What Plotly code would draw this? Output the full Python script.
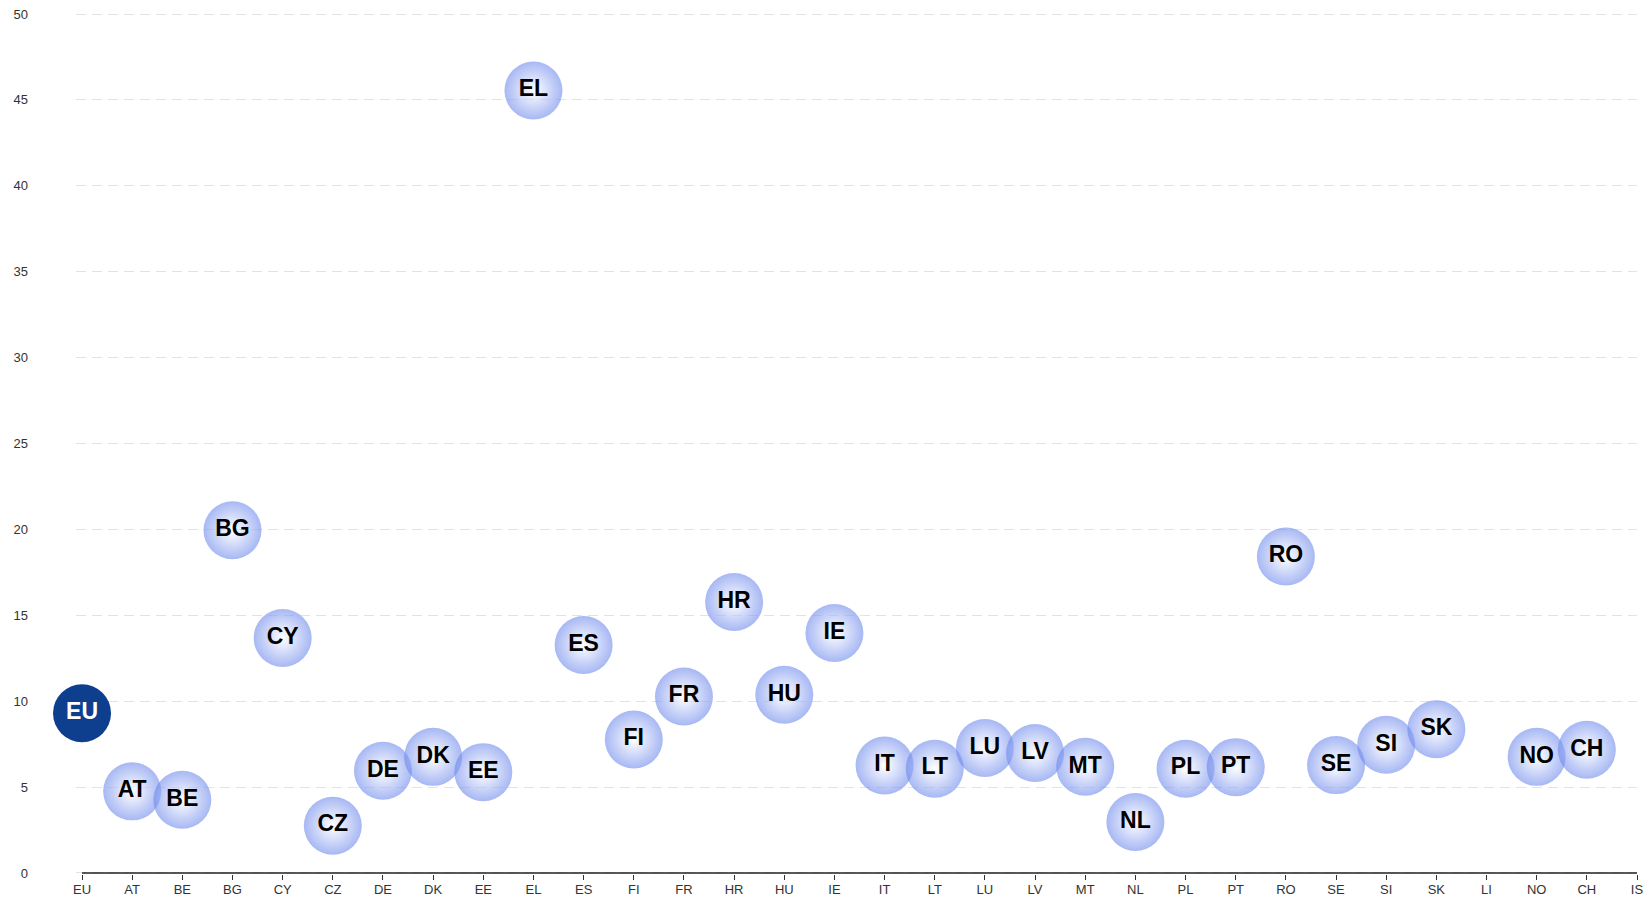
import plotly.graph_objects as go

categories = ["EU", "AT", "BE", "BG", "CY", "CZ", "DE", "DK", "EE", "EL",
              "ES", "FI", "FR", "HR", "HU", "IE", "IT", "LT", "LU", "LV",
              "MT", "NL", "PL", "PT", "RO", "SE", "SI", "SK", "LI", "NO",
              "CH", "IS"]
values = [9.3, 4.75, 4.26, 19.95, 13.68, 2.75, 5.95, 6.76, 5.87, 45.55,
          13.27, 7.77, 10.27, 15.77, 10.37, 13.97, 6.26, 6.07, 7.27, 6.98,
          6.18, 2.97, 6.07, 6.16, 18.42, 6.28, 7.46, 8.37, None, 6.76,
          7.17, None]
y_ticks = [0, 5, 10, 15, 20, 25, 30, 35, 40, 45, 50]

eu_x = [c for c in categories if c == "EU"]
eu_y = [v for c, v in zip(categories, values) if c == "EU"]
cx = [c for c, v in zip(categories, values) if c != "EU" and v is not None]
cy = [v for c, v in zip(categories, values) if c != "EU" and v is not None]

FONT = "Liberation Sans, Arial, Helvetica, sans-serif"

fig = go.Figure()

fig.add_trace(go.Scatter(
    x=cx, y=cy, mode="markers+text", text=cx,
    textposition="middle center",
    textfont=dict(family=FONT, size=23, color="#000000", weight="bold"),
    marker=dict(size=58, color="rgb(108,136,236)", opacity=0.6,
                line=dict(width=0),
                gradient=dict(type="radial", color="rgb(255,255,255)")),
    hoverinfo="skip", cliponaxis=False, showlegend=False,
))

fig.add_trace(go.Scatter(
    x=eu_x, y=eu_y, mode="markers+text", text=eu_x,
    textposition="middle center",
    textfont=dict(family=FONT, size=23, color="#ffffff", weight="bold"),
    marker=dict(size=58, color="#0e3f8e", line=dict(width=0)),
    hoverinfo="skip", cliponaxis=False, showlegend=False,
))

# x axis baseline from first to last category
fig.add_shape(type="line", xref="x", yref="y",
              x0=0, x1=len(categories) - 1, y0=0, y1=0,
              line=dict(color="#222222", width=1.5), layer="above")

fig.update_layout(
    width=1649, height=900,
    margin=dict(l=76, r=12, t=13, b=26),
    paper_bgcolor="white", plot_bgcolor="white",
    font=dict(family=FONT, size=12, color="#333333"),
    xaxis=dict(
        type="category", categoryorder="array", categoryarray=categories,
        range=[-0.12, len(categories) - 1],
        showgrid=False, zeroline=False, showline=False,
        ticks="outside", ticklen=5, tickcolor="#333333", tickwidth=1,
        ticklabelstandoff=-2,
        tickfont=dict(family=FONT, size=13, color="#333333"),
        automargin=False, fixedrange=True,
    ),
    yaxis=dict(
        range=[-0.06, 50.06], tickvals=y_ticks,
        showgrid=True, gridcolor="#e3e3e3", gridwidth=1, griddash="10px,6px",
        zeroline=False, showline=False, ticks="",
        ticklabelstandoff=47,
        tickfont=dict(family=FONT, size=13, color="#333333"),
        automargin=False, fixedrange=True,
    ),
)

fig.write_html("out.html", config={"displayModeBar": False},
               post_script="document.body.style.margin='0';")
